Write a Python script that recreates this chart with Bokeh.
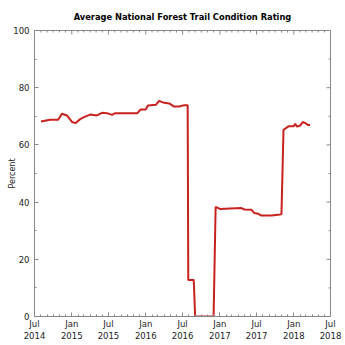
import datetime as dt
import pandas as pd
from bokeh.plotting import figure
from bokeh.models import FixedTicker, Range1d, CustomJSTickFormatter
from bokeh.embed import file_html
from bokeh.resources import INLINE

dates = [
    "2014-08-02", "2014-09-16", "2014-10-26", "2014-11-13", "2014-12-08",
    "2015-01-03", "2015-01-19", "2015-02-13", "2015-03-08", "2015-04-02",
    "2015-05-05", "2015-05-30", "2015-06-24", "2015-07-19", "2015-08-04",
    "2015-10-18", "2015-11-21", "2015-12-07", "2016-01-01", "2016-01-12",
    "2016-02-20", "2016-03-07", "2016-04-01", "2016-04-26", "2016-05-20",
    "2016-06-15", "2016-07-09", "2016-07-26", "2016-07-29", "2016-08-25",
    "2016-09-01", "2016-12-01", "2016-12-11", "2017-01-01", "2017-04-17",
    "2017-05-03", "2017-06-06", "2017-06-19", "2017-07-09", "2017-07-25",
    "2017-09-14", "2017-10-25", "2017-11-01", "2017-11-11", "2017-12-06",
    "2018-01-01", "2018-01-08", "2018-01-17", "2018-02-02", "2018-02-14",
    "2018-02-27", "2018-03-11", "2018-03-22",
]
rating = [
    68.2, 68.8, 68.8, 70.9, 70.3,
    68.0, 67.6, 69.1, 69.9, 70.6,
    70.3, 71.2, 71.1, 70.5, 71.1,
    71.1, 71.1, 72.4, 72.4, 73.8,
    74.0, 75.4, 74.7, 74.5, 73.4,
    73.4, 73.9, 73.9, 12.8, 12.8,
    0.0, 0.0, 38.3, 37.6, 37.9,
    37.4, 37.3, 36.2, 35.9, 35.3,
    35.3, 35.7, 35.8, 65.3, 66.5,
    66.5, 67.4, 66.4, 66.8, 68.0,
    67.6, 67.0, 67.0,
]
y_ticks = [0, 20, 40, 60, 80, 100]
y_minor = [10, 30, 50, 70, 90]

x = pd.to_datetime(dates)

def ms(d):
    return (d - dt.datetime(1970, 1, 1)).total_seconds() * 1000.0

major = []
minor = []
for k in range(0, 49):
    yr = 2014 + (6 + k) // 12
    mo = (6 + k) % 12 + 1
    t = ms(dt.datetime(yr, mo, 1))
    if mo in (1, 7):
        major.append(t)
    else:
        minor.append(t)

x0 = ms(dt.datetime(2014, 7, 1))
x1 = ms(dt.datetime(2018, 7, 1))

p = figure(width=345, height=345, x_axis_type="datetime",
           output_backend="svg", toolbar_location=None,
           x_range=Range1d(start=x0, end=x1),
           y_range=Range1d(0, 100),
           min_border_left=34, min_border_right=15, min_border_top=30, min_border_bottom=29,
           title="Average National Forest Trail Condition Rating")
p.title.align = "center"
p.title.text_font = "DejaVu Sans"
p.title.text_font_style = "bold"
p.title.text_font_size = "8.3px"
p.title.text_color = "#000000"
p.title.standoff = 17
p.xgrid.visible = False
p.ygrid.visible = False
p.outline_line_color = "#888888"
p.background_fill_color = "white"
p.border_fill_color = "white"

xt = FixedTicker(ticks=major, minor_ticks=minor)
yt = FixedTicker(ticks=y_ticks, minor_ticks=y_minor)

fmt = CustomJSTickFormatter(code="""
const d = new Date(tick);
const m = d.getUTCMonth();
return (m == 0 ? "Jan" : "Jul") + "\\n" + d.getUTCFullYear();
""")

def style(ax, standoff):
    ax.axis_line_color = "#888888"
    ax.major_tick_line_color = "#888888"
    ax.minor_tick_line_color = "#888888"
    ax.major_tick_in = 4
    ax.major_tick_out = 0
    ax.minor_tick_in = 2
    ax.minor_tick_out = 0
    ax.major_label_text_font = "DejaVu Sans"
    ax.major_label_text_font_size = "8.5px"
    ax.major_label_text_color = "#222222"
    ax.major_label_standoff = standoff

xa = p.xaxis[0]
xa.ticker = xt
xa.formatter = fmt
style(xa, 2)
ya = p.yaxis[0]
ya.ticker = yt
style(ya, 5)
ya.axis_label = "Percent"
ya.axis_label_text_font = "DejaVu Sans"
ya.axis_label_text_font_style = "normal"
ya.axis_label_text_font_size = "8px"
ya.axis_label_text_color = "#222222"
ya.axis_label_standoff = -7

# mirrored inward ticks on top and right edges of the frame
day = 86400000.0
p.segment(x0=major, y0=[100] * len(major), x1=major, y1=[98.6] * len(major),
          line_color="#888888", line_width=1)
p.segment(x0=minor, y0=[100] * len(minor), x1=minor, y1=[99.3] * len(minor),
          line_color="#888888", line_width=1)
p.segment(x0=[x1] * len(y_ticks), y0=y_ticks, x1=[x1 - 19.7 * day] * len(y_ticks),
          y1=y_ticks, line_color="#888888", line_width=1)
p.segment(x0=[x1] * len(y_minor), y0=y_minor, x1=[x1 - 9.9 * day] * len(y_minor),
          y1=y_minor, line_color="#888888", line_width=1)

p.line(x, rating, line_color="#c8221e", line_width=2)

open("out.html", "w").write(file_html(p, INLINE))
